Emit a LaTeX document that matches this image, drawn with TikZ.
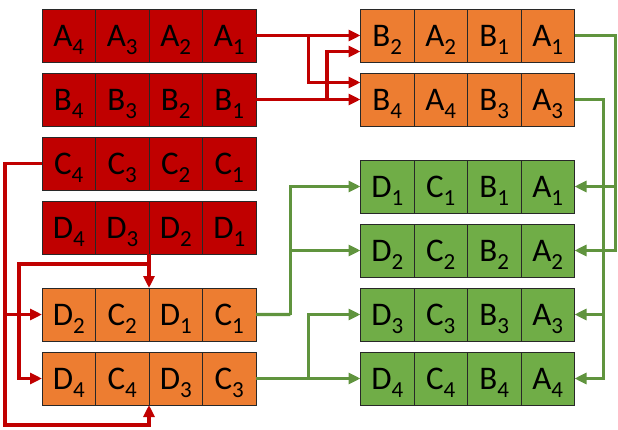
\documentclass[tikz,border=0pt]{standalone}
\usepackage{fontspec}
\setmainfont{Carlito}
\usepackage{tikz}
\usetikzlibrary{arrows.meta, positioning, calc}
\definecolor{regred}{RGB}{192, 0, 0}
\definecolor{regorange}{RGB}{237, 125, 49}
\definecolor{reggreen}{RGB}{112, 173, 71}
\definecolor{wiregreen}{RGB}{96, 148, 62}
\definecolor{cellborder}{RGB}{40, 40, 40}

% one register element: letter with lowered index
\newcommand{\elem}[2]{#1\smash{\raisebox{-8pt}{\fontsize{23}{23}\selectfont #2}}}

% one register row of four cells, named <name>-1 ... <name>-4
\newcommand{\regrow}[5]{%
  \foreach \l/\s [count=\i] in {#5} {
    \node[cell, #2] (#1-\i) at (#3+\i*53.5-53.5, #4) {\elem{\l}{\s}};
  }%
}

\begin{document}
\begin{tikzpicture}[
    x=1pt, y=-1pt,
    cell/.style={rectangle, draw=cellborder, line width=0.9pt, anchor=north west, outer sep=0pt, inner sep=0pt,
                 minimum width=53.5pt, minimum height=53pt, font=\fontsize{33}{36}\selectfont},
    inreg/.style={fill=regred},
    midreg/.style={fill=regorange},
    outreg/.style={fill=reggreen},
    redline/.style={draw=regred, line width=3.2pt, -{Triangle[length=12pt, width=11pt]}},
    greenline/.style={draw=wiregreen, line width=3.2pt, -{Triangle[length=12pt, width=11pt]}},
    plaingreen/.style={draw=wiregreen, line width=3.2pt}
]
\useasboundingbox (0,0) rectangle (618,430);

% input registers
\regrow{inA}{inreg}{42}{9}{A/4,A/3,A/2,A/1}
\regrow{inB}{inreg}{42}{73}{B/4,B/3,B/2,B/1}
\regrow{inC}{inreg}{42}{137}{C/4,C/3,C/2,C/1}
\regrow{inD}{inreg}{42}{201}{D/4,D/3,D/2,D/1}

% shuffled registers
\regrow{dcLo}{midreg}{42}{288}{D/2,C/2,D/1,C/1}
\regrow{dcHi}{midreg}{42}{352}{D/4,C/4,D/3,C/3}
\regrow{baLo}{midreg}{360.5}{9}{B/2,A/2,B/1,A/1}
\regrow{baHi}{midreg}{360.5}{73}{B/4,A/4,B/3,A/3}

% output registers
\regrow{out1}{outreg}{360.5}{160}{D/1,C/1,B/1,A/1}
\regrow{out2}{outreg}{360.5}{224}{D/2,C/2,B/2,A/2}
\regrow{out3}{outreg}{360.5}{288}{D/3,C/3,B/3,A/3}
\regrow{out4}{outreg}{360.5}{352}{D/4,C/4,B/4,A/4}

% A,B -> B A B A
\coordinate (splitA) at ($(inA-4.east)!0.5!(baLo-1.west)$);
\coordinate (splitB) at ($(inB-4.east)!0.68!(baHi-1.west)$);
\draw[redline] (inA-4.east) -- (baLo-1.west);
\draw[redline] (splitA) |- ([yshift=17pt]baHi-1.west);
\draw[redline] (inB-4.east) -- (baHi-1.west);
\draw[redline] (splitB) |- ([yshift=-16pt]baLo-1.west);

% C,D -> D C D C
\coordinate (loopC) at ([xshift=-37pt]inC-1.west);
\coordinate (splitD) at ([yshift=-10pt]inD-2.south east);
\draw[redline] (inC-1.west) -- (loopC) |- ([yshift=-20pt]dcHi-2.south east) -- (dcHi-2.south east);
\draw[redline] (loopC |- dcLo-1.west) -- (dcLo-1.west);
\draw[redline] (inD-2.south east) -- (dcLo-2.north east);
\draw[redline] (splitD) -| ([xshift=-23pt]dcHi-1.west) -- (dcHi-1.west);

% D C D C -> outputs
\coordinate (splitE) at ($(dcLo-4.east)!0.33!(out3-1.west)$);
\coordinate (splitF) at ($(dcHi-4.east)!0.5!(out4-1.west)$);
\draw[plaingreen] (dcLo-4.east) -- (splitE);
\draw[greenline] (splitE) |- (out1-1.west);
\draw[greenline] (splitE |- out2-1.west) -- (out2-1.west);
\draw[greenline] (dcHi-4.east) -- (out4-1.west);
\draw[greenline] (splitF) |- (out3-1.west);

% B A B A -> outputs
\coordinate (turnA) at ([xshift=41pt]baLo-4.east);
\coordinate (turnB) at ([xshift=29pt]baHi-4.east);
\draw[greenline] (baLo-4.east) -- (turnA) |- (out2-4.east);
\draw[greenline] (turnA |- out1-4.east) -- (out1-4.east);
\draw[greenline] (baHi-4.east) -- (turnB) |- (out4-4.east);
\draw[greenline] (turnB |- out3-4.east) -- (out3-4.east);

\end{tikzpicture}
\end{document}
